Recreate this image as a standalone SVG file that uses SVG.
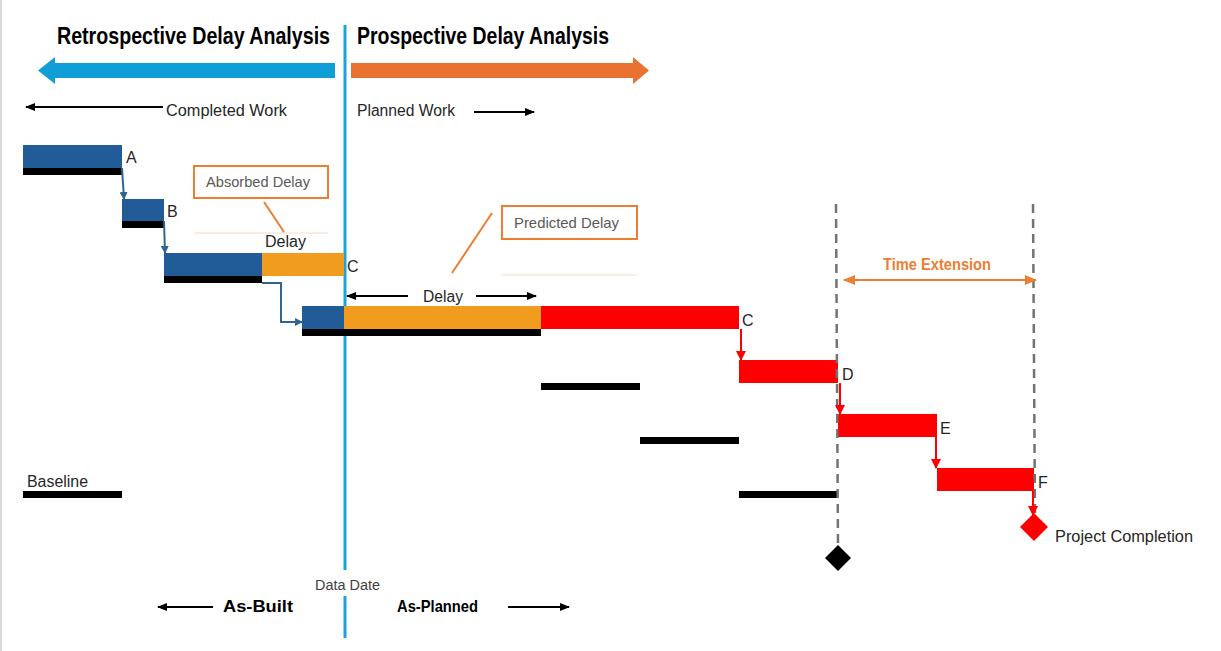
<svg xmlns="http://www.w3.org/2000/svg" width="1221" height="651" viewBox="0 0 1221 651">
<defs>
<style>
.t{font-family:"Liberation Sans",Arial,sans-serif;fill:#262626}
.lbl{font-size:16px}
.box{fill:#fff;stroke:#ed7d31;stroke-width:2}
.bl{fill:#215c98}
.or{fill:#f29c1f}
.rd{fill:#ff0000}
.bk{fill:#000}
.dash{stroke:#737373;stroke-width:2.5;stroke-dasharray:9 6;fill:none}
.ca{fill:none;stroke:#2e6592;stroke-width:2}
.cr{fill:none;stroke:#ff0000;stroke-width:2}
.ka{fill:none;stroke:#000;stroke-width:2}
</style>
<marker id="mb" markerWidth="8" markerHeight="8" refX="7" refY="4" orient="auto" markerUnits="userSpaceOnUse"><path d="M0,0 L8,4 L0,8 z" fill="#2e6592"/></marker>
<marker id="mr" markerWidth="10" markerHeight="10" refX="9" refY="5" orient="auto" markerUnits="userSpaceOnUse"><path d="M0,0 L10,5 L0,10 z" fill="#ff0000"/></marker>
<marker id="mk" markerWidth="10" markerHeight="8" refX="9" refY="4" orient="auto" markerUnits="userSpaceOnUse"><path d="M0,0 L10,4 L0,8 z" fill="#000"/></marker>
<marker id="mo" markerWidth="12" markerHeight="10" refX="11" refY="5" orient="auto-start-reverse" markerUnits="userSpaceOnUse"><path d="M0,0 L12,5 L0,10 z" fill="#ed7d31"/></marker>
</defs>
<rect x="0" y="0" width="1221" height="651" fill="#fff"/>
<line x1="1" y1="0" x2="1" y2="651" stroke="#d9d9d9" stroke-width="2"/>

<g id="headers">
<text class="t" x="57" y="44" font-size="23" font-weight="bold" textLength="273" lengthAdjust="spacingAndGlyphs" style="fill:#000">Retrospective Delay Analysis</text>
<text class="t" x="357" y="44" font-size="23" font-weight="bold" textLength="252" lengthAdjust="spacingAndGlyphs" style="fill:#000">Prospective Delay Analysis</text>
<path d="M335,63 L55,63 L55,57 L38,70.5 L55,84 L55,78 L335,78 Z" fill="#0f9fd6"/>
<path d="M351,63 L633,63 L633,57 L649,70.5 L633,84 L633,78 L351,78 Z" fill="#e97132"/>
</g>

<g id="data-date">
<line x1="345" y1="25" x2="345" y2="570" stroke="#19a5dc" stroke-width="3"/>
<line x1="345" y1="596" x2="345" y2="638" stroke="#19a5dc" stroke-width="3"/>
<text class="t" x="347.5" y="590" font-size="14" text-anchor="middle" textLength="65" lengthAdjust="spacingAndGlyphs" style="fill:#404040">Data Date</text>
</g>

<g id="work-labels">
<text class="t lbl" x="166" y="116" textLength="121" lengthAdjust="spacingAndGlyphs">Completed Work</text>
<text class="t lbl" x="357" y="116" textLength="98" lengthAdjust="spacingAndGlyphs">Planned Work</text>
<text class="t" x="223" y="612" font-size="17" font-weight="bold" textLength="70" lengthAdjust="spacingAndGlyphs" style="fill:#000">As-Built</text>
<text class="t" x="397" y="612" font-size="17" font-weight="bold" textLength="81" lengthAdjust="spacingAndGlyphs" style="fill:#000">As-Planned</text>
</g>

<g id="task-A">
<rect class="bl" x="23" y="145" width="99" height="23"/>
<rect class="bk" x="23" y="168" width="99" height="7"/>
<text class="t lbl" x="126" y="163">A</text>
</g>
<g id="task-B">
<rect class="bl" x="122" y="199" width="42" height="22"/>
<rect class="bk" x="122" y="221" width="42" height="7"/>
<text class="t lbl" x="167" y="217">B</text>
</g>
<g id="task-C-retro">
<rect class="bl" x="164" y="253" width="98" height="23"/>
<rect class="or" x="262" y="253" width="82" height="23"/>
<rect class="bk" x="164" y="276" width="98" height="7"/>
<text class="t lbl" x="347" y="272">C</text>
</g>
<g id="task-C">
<rect class="bl" x="302" y="306" width="42" height="23"/>
<rect class="or" x="344" y="306" width="197" height="23"/>
<rect class="rd" x="541" y="306" width="198" height="23"/>
<rect class="bk" x="302" y="329" width="239" height="7"/>
<text class="t lbl" x="742" y="326">C</text>
</g>
<g id="task-D">
<rect class="rd" x="739" y="360" width="99" height="23"/>
<rect class="bk" x="541" y="383" width="99" height="7"/>
<text class="t lbl" x="842" y="380">D</text>
</g>
<g id="task-E">
<rect class="rd" x="838" y="414" width="99" height="23"/>
<rect class="bk" x="640" y="437" width="99" height="7"/>
<text class="t lbl" x="940" y="434">E</text>
</g>
<g id="task-F">
<rect class="rd" x="937" y="468" width="97" height="23"/>
<rect class="bk" x="739" y="491" width="99" height="7"/>
<text class="t lbl" x="1038" y="488">F</text>
</g>
<g id="baseline-legend">
<text class="t lbl" x="27" y="487" textLength="61" lengthAdjust="spacingAndGlyphs">Baseline</text>
<rect class="bk" x="23" y="491" width="99" height="7"/>
</g>

<g id="absorbed-delay">
<rect class="box" x="194" y="166" width="134" height="32"/>
<text class="t" x="206" y="187" font-size="15" textLength="104" lengthAdjust="spacingAndGlyphs" style="fill:#595959">Absorbed Delay</text>
<line x1="194" y1="233" x2="328" y2="233" stroke="#f8d9c6" stroke-width="1"/>
<line x1="264" y1="202" x2="284" y2="232" stroke="#ed7d31" stroke-width="2"/>
<text class="t lbl" x="265" y="247" textLength="41" lengthAdjust="spacingAndGlyphs">Delay</text>
</g>
<g id="predicted-delay">
<rect class="box" x="502" y="206" width="135" height="33"/>
<text class="t" x="514" y="228" font-size="15" textLength="105" lengthAdjust="spacingAndGlyphs" style="fill:#595959">Predicted Delay</text>
<line x1="502" y1="275" x2="637" y2="275" stroke="#f8d9c6" stroke-width="1"/>
<line x1="492" y1="213" x2="452" y2="273" stroke="#ed7d31" stroke-width="2"/>
<text class="t lbl" x="423" y="302" textLength="40" lengthAdjust="spacingAndGlyphs">Delay</text>
</g>
<g id="time-extension">
<line class="dash" x1="836" y1="204" x2="838" y2="546"/>
<line class="dash" x1="1033" y1="204" x2="1035" y2="520"/>
<text x="937" y="270" font-family="Liberation Sans,Arial,sans-serif" font-size="16" font-weight="bold" fill="#ed7d31" text-anchor="middle" textLength="108" lengthAdjust="spacingAndGlyphs">Time Extension</text>
<line x1="844" y1="280" x2="1036" y2="280" stroke="#ed7d31" stroke-width="2" marker-start="url(#mo)" marker-end="url(#mo)"/>
</g>
<g id="milestones">
<path d="M838,545 L851,558 L838,571 L825,558 Z" fill="#000"/>
<path d="M1034,513 L1048,527 L1034,541 L1020,527 Z" fill="#ff0000"/>
<text class="t lbl" x="1055" y="542" textLength="138" lengthAdjust="spacingAndGlyphs">Project Completion</text>
</g>

<g id="connectors">
<path class="ca" d="M122,168 L124,199" marker-end="url(#mb)"/>
<path class="ca" d="M164,221 L165,253" marker-end="url(#mb)"/>
<path class="ca" d="M262,283 L281,283 L281,322 L302,322" marker-end="url(#mb)"/>
<path class="cr" d="M741,329 L741,360" marker-end="url(#mr)"/>
<path class="cr" d="M840,383 L840,414" marker-end="url(#mr)"/>
<path class="cr" d="M936,437 L936,468" marker-end="url(#mr)"/>
<path class="cr" d="M1033,491 L1033,515" marker-end="url(#mr)"/>
<path class="ka" d="M163,107 L26,107" marker-end="url(#mk)"/>
<path class="ka" d="M474,112 L534,112" marker-end="url(#mk)"/>
<path class="ka" d="M408,296 L347,296" marker-end="url(#mk)"/>
<path class="ka" d="M476,296 L536,296" marker-end="url(#mk)"/>
<path class="ka" d="M213,607 L158,607" marker-end="url(#mk)"/>
<path class="ka" d="M508,607 L569,607" marker-end="url(#mk)"/>
</g>
</svg>
